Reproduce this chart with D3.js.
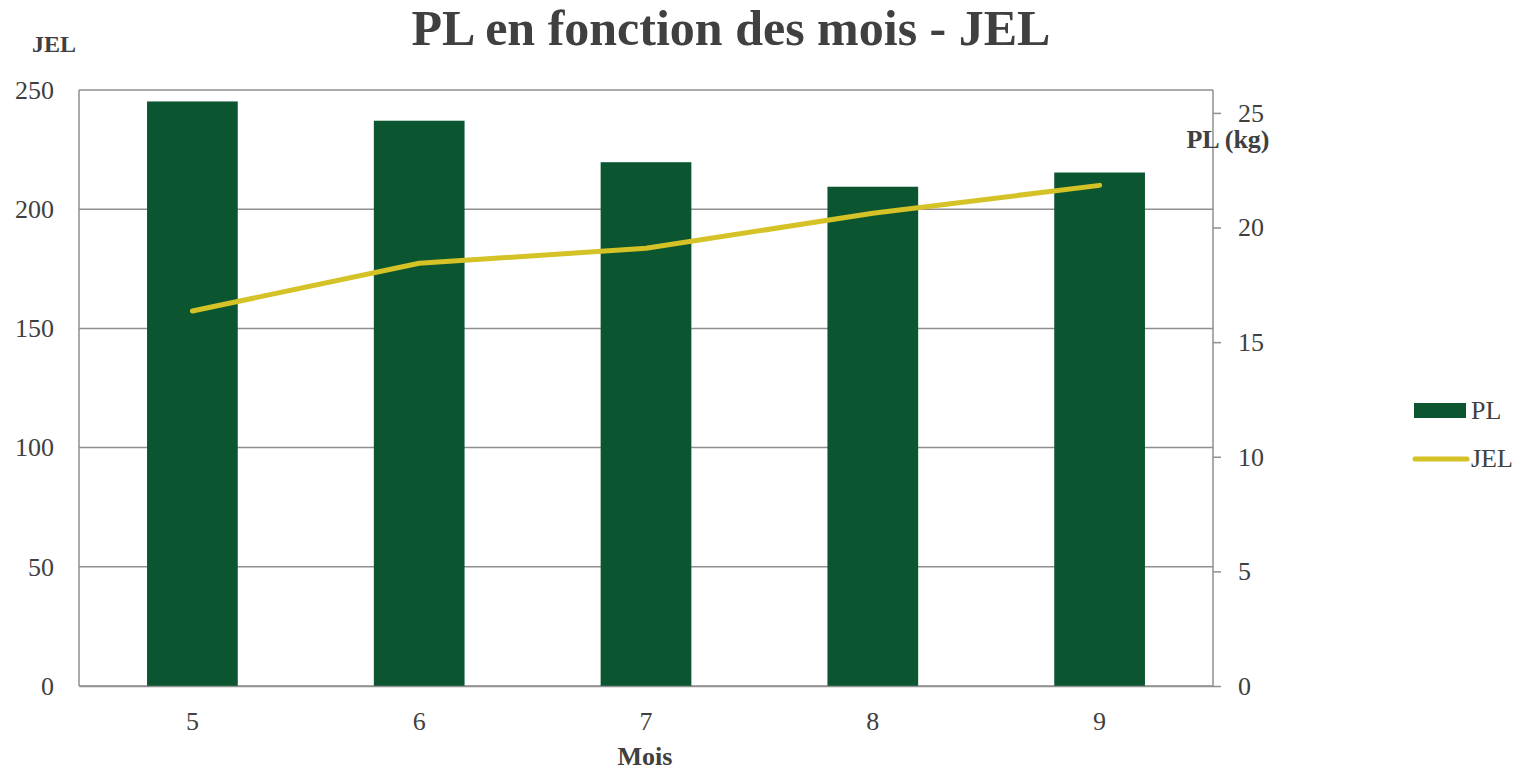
<!DOCTYPE html>
<html>
<head>
<meta charset="utf-8">
<script src="https://cdn.jsdelivr.net/npm/d3@7"></script>
<style>
  html, body { margin: 0; padding: 0; background: #fff; }
  svg text { font-family: "Palatino Linotype", "Book Antiqua", Palatino, "Liberation Serif", serif; fill: #404040; }
</style>
</head>
<body>
<script>
'use strict';
// chart data
const mois = ['5', '6', '7', '8', '9'];
const plKg = [25.5, 24.66, 22.85, 21.78, 22.4];     // bars, right axis
const jel = [157.3, 177.3, 183.6, 198.3, 210.0];    // line, left axis
const leftTicks = [0, 50, 100, 150, 200, 250];
const rightTicks = [0, 5, 10, 15, 20, 25];

(function () {
  const width = 1527, height = 773;
  const left = 79, right = 1213, top = 90, bottom = 686;
  const barColor = '#0b5630', lineColor = '#d4c226', gridColor = '#8f8f8f';

  const svg = d3.select('body').append('svg')
    .attr('width', width)
    .attr('height', height);

  const x = d3.scaleBand().domain(mois).range([left, right])
    .paddingInner(0.6).paddingOuter(0.3);
  const yL = d3.scaleLinear().domain([0, 250]).range([bottom, top]);
  const yR = d3.scaleLinear().domain([0, 26]).range([bottom, top]);

  // gridlines
  svg.append('g').selectAll('line')
    .data(leftTicks)
    .enter().append('line')
    .attr('x1', left).attr('x2', right)
    .attr('y1', d => yL(d)).attr('y2', d => yL(d))
    .attr('stroke', gridColor).attr('stroke-width', 1.5);

  // bars (PL)
  svg.append('g').selectAll('rect')
    .data(mois)
    .enter().append('rect')
    .attr('x', d => x(d))
    .attr('width', x.bandwidth())
    .attr('y', (d, i) => yR(plKg[i]))
    .attr('height', (d, i) => yR(0) - yR(plKg[i]))
    .attr('fill', barColor);

  // line (JEL)
  const line = d3.line()
    .x((d, i) => x(mois[i]) + x.bandwidth() / 2)
    .y(d => yL(d));
  svg.append('path')
    .datum(jel)
    .attr('d', line)
    .attr('fill', 'none')
    .attr('stroke', lineColor)
    .attr('stroke-width', 5)
    .attr('stroke-linecap', 'round')
    .attr('stroke-linejoin', 'round');

  // axes
  const axLeft = svg.append('g')
    .attr('transform', `translate(${left},0)`)
    .call(d3.axisLeft(yL).tickValues(leftTicks).tickSize(0).tickPadding(25));
  const axRight = svg.append('g')
    .attr('transform', `translate(${right},0)`)
    .call(d3.axisRight(yR).tickValues(rightTicks).tickSize(8).tickPadding(17));
  const axBottom = svg.append('g')
    .attr('transform', `translate(0,${bottom})`)
    .call(d3.axisBottom(x).tickSize(0).tickPadding(26));

  [axLeft, axRight, axBottom].forEach(g => {
    g.select('.domain').attr('stroke', gridColor).attr('stroke-width', 1.5);
    g.selectAll('.tick line').attr('stroke', gridColor).attr('stroke-width', 1.5);
    g.selectAll('.tick text')
      .style('font-size', '26px')
      .attr('fill', '#404040');
  });
  axLeft.select('.domain').attr('d', `M0,${top}V${bottom}`);
  axRight.select('.domain').attr('d', `M0,${top}V${bottom}`);

  // titles
  svg.append('text')
    .attr('x', 731).attr('y', 45)
    .attr('text-anchor', 'middle')
    .style('font-size', '50px').style('font-weight', 'bold')
    .text('PL en fonction des mois - JEL');

  svg.append('text')
    .attr('x', 54).attr('y', 52)
    .attr('text-anchor', 'middle')
    .style('font-size', '24px').style('font-weight', 'bold')
    .text('JEL');

  svg.append('text')
    .attr('x', 1228).attr('y', 148)
    .attr('text-anchor', 'middle')
    .style('font-size', '26px').style('font-weight', 'bold')
    .text('PL (kg)');

  svg.append('text')
    .attr('x', 645).attr('y', 765)
    .attr('text-anchor', 'middle')
    .style('font-size', '26px').style('font-weight', 'bold')
    .text('Mois');

  // legend
  const legend = svg.append('g').attr('transform', 'translate(1414,0)');
  legend.append('rect')
    .attr('x', 0).attr('y', 403)
    .attr('width', 52).attr('height', 15)
    .attr('fill', barColor);
  legend.append('text')
    .attr('x', 57).attr('y', 419)
    .style('font-size', '26px')
    .text('PL');
  legend.append('line')
    .attr('x1', 1).attr('x2', 53)
    .attr('y1', 459).attr('y2', 459)
    .attr('stroke', lineColor).attr('stroke-width', 5)
    .attr('stroke-linecap', 'round');
  legend.append('text')
    .attr('x', 57).attr('y', 467)
    .style('font-size', '26px')
    .text('JEL');
})();
</script>
</body>
</html>
